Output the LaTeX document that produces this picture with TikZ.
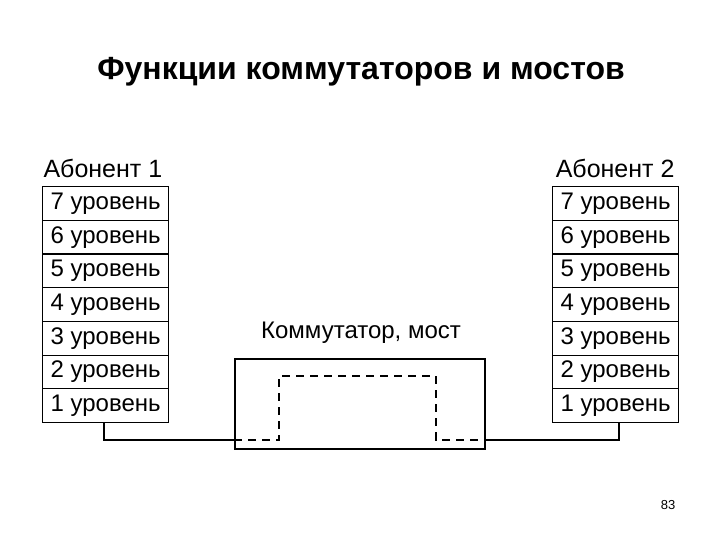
\documentclass[tikz,border=0pt]{standalone}
\usepackage{fontspec}
\setmainfont{Liberation Sans}
\begin{document}
\begin{tikzpicture}[x=1pt,y=-1pt,
  lvl/.style={draw,line width=1.2pt,minimum width=126pt,minimum height=33.7pt,inner sep=0pt,font=\fontsize{24}{24}\selectfont,anchor=north west},
  wire/.style={line width=2.2pt},
  lbl/.style={font=\fontsize{24}{24}\selectfont}]
\useasboundingbox (0,0) rectangle (720,540);
\node[font=\bfseries\fontsize{32}{32}\selectfont] (title) at (361,72) {Функции коммутаторов и мостов};
\foreach \s/\x in {L/42,R/552}{
  \foreach \i in {1,...,7}{
    \pgfmathtruncatemacro\n{8-\i}
    \node[lvl] (\s\n) at (\x,{186+(\i-1)*33.7}) {\n\ уровень};
  }
}
\node[lbl,anchor=west,font=\fontsize{25}{25}\selectfont] (aL) at (40,168) {Абонент 1};
\node[lbl,anchor=east,font=\fontsize{25}{25}\selectfont] (aR) at (678,168) {Абонент 2};
\node[lbl] (sw) at (361,333) {Коммутатор, мост};
\node[draw,line width=1.2pt,minimum width=250pt,minimum height=90pt,inner sep=0pt] (box) at (360,404) {};
\coordinate (cl) at (104,440);
\coordinate (cr) at (619,440);
\draw[wire] (104,422) -- (cl) -- (box.west |- cl);
\draw[wire] (box.east |- cr) -- (cr) -- (619,422);
\draw[line width=1.2pt,dash pattern=on 8pt off 6pt] (box.west |- cl) -- (279,440) -- (279,376) -- (436,376) -- (436,440) -- (box.east |- cr);
\node[font=\fontsize{13}{13}\selectfont] (pg) at (668,505) {83};
\end{tikzpicture}
\end{document}
